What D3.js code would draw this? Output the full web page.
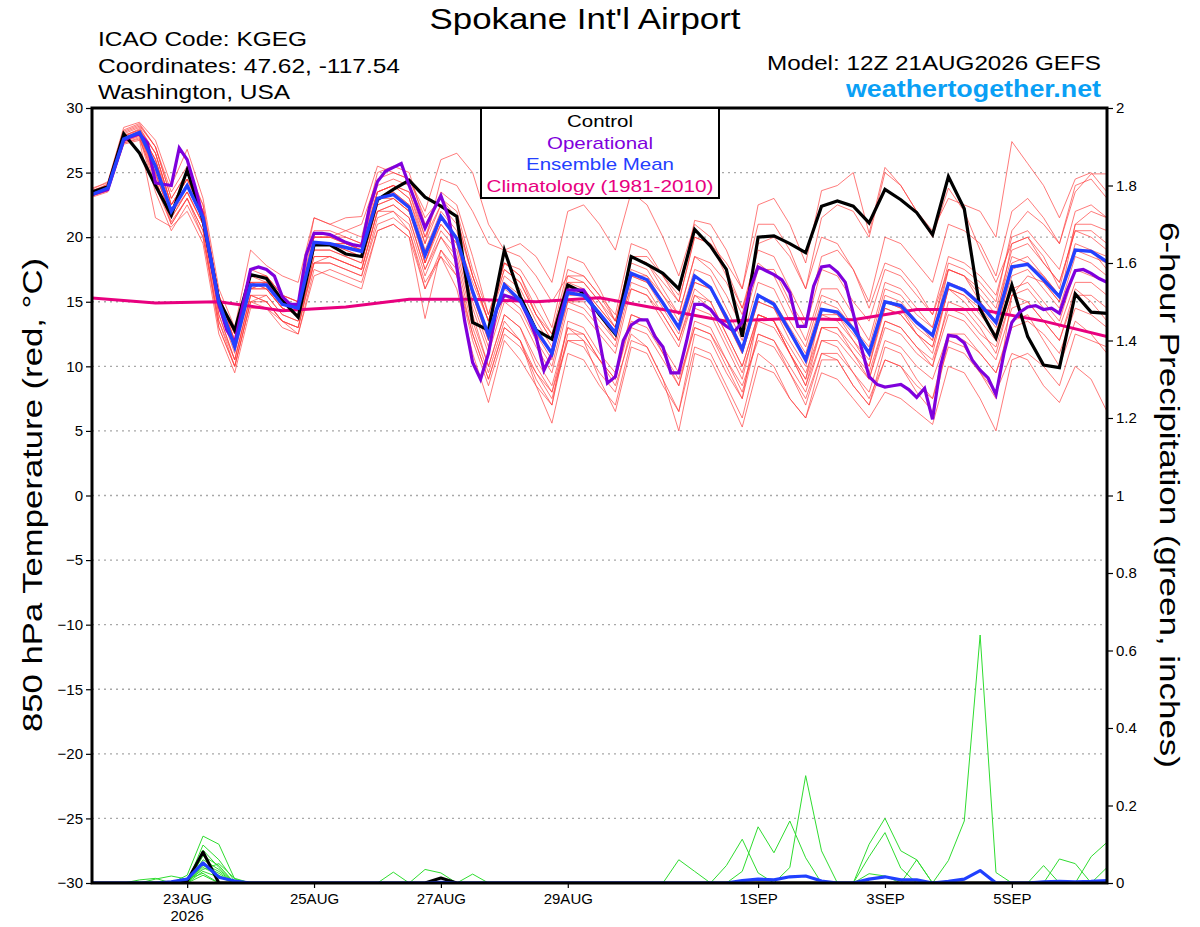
<!DOCTYPE html>
<html lang="en">
<head>
<meta charset="utf-8">
<title>Spokane Int'l Airport - GEFS 850 hPa</title>
<script src="https://d3js.org/d3.v7.min.js"></script>
<style>
  body { margin: 0; background: #fff; }
  text { font-family: "Liberation Sans", Arial, Helvetica, sans-serif; }
</style>
</head>
<body>
<script>

// ---- data ----
var runStart = Date.UTC(2026, 7, 21, 12);   // 12Z 21AUG2026
var runEnd   = Date.UTC(2026, 8, 6, 12);

var tickDates  = [Date.UTC(2026,7,23), Date.UTC(2026,7,25), Date.UTC(2026,7,27), Date.UTC(2026,7,29),
                  Date.UTC(2026,8,1), Date.UTC(2026,8,3), Date.UTC(2026,8,5)];
var tickLabels = ["23AUG", "25AUG", "27AUG", "29AUG", "1SEP", "3SEP", "5SEP"];
var tempTicks  = [-30, -25, -20, -15, -10, -5, 0, 5, 10, 15, 20, 25, 30];
var gridTemps  = [-25, -20, -15, -10, -5, 0, 5, 10, 15, 20, 25];
var precipTicks  = [0, 0.2, 0.4, 0.6, 0.8, 1, 1.2, 1.4, 1.6, 1.8, 2];
var precipLabels = ["0", "0.2", "0.4", "0.6", "0.8", "1", "1.2", "1.4", "1.6", "1.8", "2"];

// 6-hourly, 65 values
var controlT = [23.5,23.9,28.0,26.5,24.0,21.7,25.2,21.3,15.1,12.8,
                17.1,16.8,15.1,13.8,19.4,19.4,18.7,18.5,22.9,23.7,
                24.4,23.1,22.4,21.6,13.4,12.8,19.0,15.4,12.8,12.1,
                16.3,15.7,14.0,12.5,18.5,17.9,17.2,16.0,20.6,19.3,
                17.5,12.3,20.0,20.1,19.5,18.8,22.4,22.8,22.4,21.1,
                23.7,22.9,21.9,20.2,24.7,22.2,14.4,12.2,16.3,12.3,
                10.1,9.9,15.6,14.2,14.1];
var meanT = [23.3,23.8,27.6,28.1,25.5,22.0,24.0,21.5,15.0,11.5,
             16.3,16.3,14.8,14.5,19.6,19.5,19.2,18.9,23.0,23.3,
             22.3,18.6,21.6,19.9,15.8,12.4,16.3,15.1,12.8,11.0,
             15.7,15.5,14.1,12.6,17.2,16.7,14.9,13.0,17.0,16.1,
             13.8,11.3,15.5,14.8,12.7,10.5,14.4,14.2,12.9,11.0,
             15.0,14.7,13.4,12.4,16.4,15.9,14.8,13.4,17.7,17.9,
             16.7,15.4,19.0,18.9,18.1];
// operational run is 3-hourly, 129 values
var operT = [23.3,23.5,23.7,25.6,27.5,27.8,28.0,27.3,24.2,24.1,
             24.0,26.9,26.0,23.9,21.5,18.2,14.8,12.8,11.8,14.7,
             17.5,17.7,17.5,17.0,15.4,14.8,14.8,18.6,20.3,20.3,
             20.2,19.9,19.6,19.4,19.3,22.3,24.3,25.1,25.4,25.7,
             24.0,22.4,20.7,22.0,23.2,21.5,17.7,13.5,10.3,9.0,
             11.0,14.4,15.5,15.3,15.1,13.8,12.3,9.7,11.0,13.8,
             15.9,15.9,15.9,14.9,12.0,8.7,9.2,12.0,13.2,13.6,
             13.6,12.3,11.5,9.5,9.5,12.0,14.8,14.8,14.4,13.6,
             13.1,12.7,13.4,16.0,17.7,17.4,17.1,16.7,15.7,13.1,
             13.1,16.2,17.7,17.8,17.3,16.5,14.1,11.5,9.2,8.6,
             8.4,8.5,8.6,8.2,7.6,8.3,5.9,10.0,12.4,12.3,
             11.8,10.5,9.7,9.1,7.8,11.0,13.4,14.2,14.6,14.7,
             14.4,14.5,14.1,15.9,17.4,17.5,17.2,16.8,16.5];
// climatology, daily at 12Z
var climT = [15.3,14.9,15.0,14.3,14.6,15.2,15.2,15.0,15.3,14.4,13.5,13.7,13.6,14.4,14.4,13.5,12.3];

// ensemble members, 6-hourly
var mem01 = [23.6,24.0,28.0,28.5,26.5,22.5,24.5,22.0,15.5,12.0,17.5,17.0,15.5,15.0,20.5,20.5,20.0,19.5,24.0,24.5,24.0,20.0,23.5,22.5,18.5,14.0,18.0,17.0,14.5,12.5,17.5,17.0,15.5,14.0,19.5,19.0,17.0,15.0,20.0,19.5,17.0,14.5,19.0,18.5,16.0,13.5,18.5,19.0,17.5,15.0,20.0,19.5,18.0,16.5,21.0,20.5,19.5,17.0,22.0,23.0,21.5,19.5,24.0,24.5,23.0];
var mem02 = [23.2,23.6,27.3,27.6,24.5,21.0,23.0,20.0,13.5,10.0,15.0,15.0,13.5,13.0,18.0,18.0,17.5,17.0,21.5,22.0,20.5,16.0,19.0,17.0,12.0,8.5,12.5,11.5,9.5,8.0,12.0,12.0,10.5,9.0,13.5,13.0,11.0,9.0,13.0,12.5,10.5,8.5,12.0,11.5,9.5,7.5,11.0,11.0,9.5,8.0,12.0,11.5,10.0,9.0,12.5,12.0,11.0,9.5,13.0,13.5,12.5,11.0,14.5,14.0,13.0];
var mem03 = [23.8,24.2,28.3,28.8,27.0,23.5,25.5,22.5,15.0,12.5,16.5,16.5,15.0,14.5,20.0,20.0,20.5,21.0,24.5,25.0,24.5,22.0,26.0,26.5,25.0,21.0,19.0,18.5,17.0,15.0,17.0,16.5,15.0,13.0,16.0,15.5,14.0,12.0,15.5,15.0,12.5,10.0,14.0,13.5,11.5,9.5,13.0,13.0,11.5,10.0,14.5,14.0,12.5,11.5,16.0,15.5,14.5,13.0,17.0,17.5,16.0,14.5,18.5,18.0,17.0];
var mem04 = [23.5,23.9,27.8,28.3,26.0,22.0,24.0,21.5,14.5,11.5,16.0,16.5,15.0,14.5,19.5,19.5,19.5,19.0,23.5,24.0,23.0,19.5,24.5,24.0,22.0,19.5,19.0,19.5,18.5,16.5,22.0,22.5,21.0,19.0,23.5,22.5,20.0,17.0,21.0,20.0,17.5,14.5,18.0,17.0,14.5,12.0,16.0,16.0,14.0,12.0,16.5,16.0,14.5,13.0,17.5,17.0,16.0,14.5,19.0,19.5,18.0,16.5,20.5,20.5,19.5];
var mem05 = [23.4,23.8,27.5,28.0,25.5,22.0,24.0,21.5,15.0,11.5,16.5,16.0,14.5,14.0,19.0,19.0,18.5,18.0,22.5,23.0,22.0,18.0,21.0,19.5,15.0,11.5,15.5,14.5,12.0,10.0,15.0,15.0,13.5,12.0,17.0,17.0,15.5,14.0,18.5,18.0,16.5,14.0,19.5,20.0,18.5,16.0,21.5,22.5,22.0,20.0,25.0,24.0,22.0,20.5,23.0,22.5,22.0,20.0,27.4,25.7,24.0,21.5,24.5,25.0,23.5];
var mem06 = [23.1,23.5,27.2,27.5,21.5,20.8,22.0,19.5,12.5,9.5,14.5,14.5,13.0,12.5,17.0,17.5,17.0,16.5,20.5,21.0,20.0,16.0,18.5,17.0,12.5,9.0,13.0,12.0,9.0,7.0,13.5,13.0,11.0,9.5,14.0,13.5,11.0,8.5,13.5,13.0,10.5,8.0,12.5,12.0,9.5,7.0,11.0,10.5,8.5,7.0,10.5,10.0,8.5,7.5,11.5,11.0,9.5,8.0,11.0,10.5,8.5,7.2,10.0,9.0,6.5];
var mem07 = [23.6,24.1,28.1,28.6,27.0,23.0,25.0,22.0,15.5,12.5,17.0,17.0,15.5,15.0,21.5,21.0,20.5,20.0,25.0,25.5,25.0,21.0,23.0,22.0,17.5,14.0,18.0,17.0,14.0,12.5,16.5,16.0,14.5,13.0,18.0,17.5,15.5,13.5,17.5,17.0,14.5,12.0,16.5,16.0,13.5,11.5,15.5,15.0,13.0,11.0,15.5,15.0,13.5,12.0,17.5,17.0,15.0,13.5,19.5,20.0,18.0,16.5,20.5,20.0,19.0];
var mem08 = [23.3,23.7,27.6,28.0,25.0,21.5,23.5,21.0,14.0,10.5,15.5,15.0,13.5,13.0,18.5,18.5,18.0,17.5,22.0,22.0,21.0,17.0,20.0,18.0,13.0,9.5,13.5,12.0,8.5,5.6,11.0,10.5,8.5,7.0,12.0,11.5,9.0,6.5,12.5,12.0,9.5,7.5,14.0,13.5,11.0,9.0,14.5,14.0,12.0,10.0,15.0,14.5,12.5,11.0,16.0,15.0,13.5,12.0,16.0,16.5,15.0,13.5,17.5,17.0,16.5];
var mem09 = [23.5,23.9,27.7,28.2,26.0,22.5,24.5,21.5,15.0,12.0,16.0,16.0,14.5,14.0,19.5,19.5,19.0,18.5,23.0,23.5,22.5,18.0,21.5,20.0,15.5,12.0,16.5,15.0,12.5,10.5,16.0,16.0,14.5,13.0,18.5,18.0,16.5,15.0,20.0,19.5,18.0,16.0,22.5,23.0,21.0,18.0,23.6,24.0,25.0,20.3,25.4,24.0,22.0,20.0,23.8,22.0,19.0,16.5,19.5,20.0,18.5,16.0,21.0,21.0,20.5];
var mem10 = [23.2,23.6,27.4,27.8,24.0,21.0,23.0,20.5,13.0,10.0,15.0,15.5,14.0,13.5,18.5,18.5,18.0,17.5,22.0,22.5,21.5,17.5,20.5,19.0,14.0,10.0,14.0,13.0,10.5,8.5,13.0,12.5,10.5,8.5,12.5,11.5,9.0,5.0,11.0,10.5,8.0,5.3,10.0,9.5,7.5,6.0,9.5,9.0,7.5,6.0,8.0,7.5,6.5,5.5,10.0,9.5,7.5,5.0,10.5,11.0,10.0,8.5,12.5,12.0,11.5];
var mem11 = [23.7,24.3,28.5,28.9,27.5,24.0,26.8,23.0,16.0,13.0,19.0,17.8,17.0,16.5,21.5,21.0,21.5,21.6,25.5,25.0,24.5,21.5,23.0,21.5,17.0,13.5,17.0,16.0,13.5,11.5,16.0,15.5,14.0,12.0,17.0,16.5,14.5,12.5,16.5,16.0,13.5,11.0,15.0,14.5,12.0,10.0,14.0,13.5,12.0,10.5,14.5,14.0,12.5,11.5,16.0,15.5,14.0,12.5,17.5,18.0,16.5,15.0,19.5,19.0,18.5];
var mem12 = [23.3,23.8,27.5,27.9,24.8,21.8,23.5,21.0,14.5,11.0,16.0,16.0,14.5,14.0,19.0,19.0,18.5,18.0,22.5,23.0,22.0,18.5,21.0,19.5,14.5,11.0,15.0,14.0,11.5,9.5,14.5,14.0,12.5,11.0,16.0,15.5,13.5,11.5,15.5,14.5,12.0,9.5,13.5,13.0,11.0,9.0,13.0,12.5,11.0,9.5,13.5,13.0,11.5,10.5,14.5,14.0,12.5,11.5,15.5,16.0,14.5,13.0,16.5,16.5,15.5];
var mem13 = [23.4,23.9,27.9,28.3,26.5,22.5,24.5,22.0,15.5,12.0,17.0,16.5,15.0,14.5,20.0,20.0,19.5,19.0,23.5,24.0,23.0,19.0,22.0,20.5,16.0,12.5,16.5,15.5,13.0,11.0,15.5,15.5,14.0,12.5,17.0,16.5,15.0,13.0,16.5,16.0,14.0,11.5,15.5,15.0,13.0,11.0,15.0,14.5,13.0,11.5,16.0,15.5,14.0,13.0,18.0,17.5,16.5,15.0,20.5,22.0,21.0,19.5,23.5,24.9,24.9];
var mem14 = [23.2,23.7,27.6,28.0,25.0,21.5,23.5,21.0,14.0,10.5,15.5,15.5,14.0,13.5,18.0,18.0,17.5,17.0,21.0,21.5,20.5,16.5,18.5,16.0,11.0,7.2,12.0,10.5,8.5,7.0,12.5,12.5,10.5,9.0,14.0,13.5,11.5,9.5,14.5,14.0,11.5,9.0,14.0,13.5,11.0,8.5,13.0,13.0,11.0,9.0,13.5,13.0,11.5,10.0,15.0,14.5,13.0,11.0,15.5,15.0,13.5,12.0,16.0,15.0,13.5];
var mem15 = [23.5,24.0,27.8,28.4,26.5,22.5,24.5,22.0,15.0,12.0,16.5,16.5,15.0,14.5,20.0,20.0,19.5,19.0,23.5,24.0,23.5,19.5,22.5,21.5,17.0,13.5,17.5,16.5,14.0,12.0,17.0,17.0,15.5,13.5,18.5,18.5,17.0,15.5,21.3,21.0,19.0,16.0,21.0,21.0,19.0,16.0,20.0,19.5,17.5,14.5,18.0,17.5,16.0,14.0,17.5,17.0,15.5,14.0,18.5,18.0,17.0,15.5,19.0,19.0,17.5];
var mem16 = [23.3,23.8,27.6,28.1,25.5,22.0,24.0,21.5,14.5,11.5,16.5,16.0,14.5,14.0,19.5,19.5,19.0,18.5,23.0,23.5,22.5,18.0,21.5,20.0,15.5,12.0,16.0,15.0,12.5,11.0,15.0,14.5,13.0,11.5,16.5,16.0,14.0,12.0,16.0,15.0,12.5,10.0,14.0,13.5,11.0,8.5,12.0,11.5,9.5,7.5,10.5,10.0,8.0,6.5,12.0,11.5,9.5,7.5,15.5,17.0,16.5,15.0,21.0,22.0,21.5];
var mem17 = [23.4,23.8,27.7,28.2,26.0,22.0,24.0,21.5,15.0,11.5,16.0,16.5,15.0,14.5,19.5,19.5,19.5,19.0,23.0,23.0,22.0,18.5,21.5,20.0,16.5,13.5,18.0,17.5,15.5,13.0,18.5,18.0,16.0,13.5,17.5,17.0,15.0,13.0,17.0,16.0,13.5,11.0,15.0,14.5,12.5,10.5,14.0,14.0,12.5,11.0,15.0,14.5,13.0,12.0,16.5,16.0,15.0,13.5,18.0,18.5,17.0,15.5,19.0,18.5,18.0];
var mem18 = [23.3,23.7,27.4,27.9,24.5,21.2,23.0,20.5,13.5,10.5,15.5,15.0,13.5,13.0,18.0,18.5,18.0,17.5,22.0,22.5,21.5,17.5,20.0,18.5,13.5,10.0,14.0,13.0,10.0,8.0,13.0,12.0,9.0,6.5,11.5,11.0,8.5,6.5,11.5,11.0,8.5,6.0,11.0,10.0,7.5,6.0,10.5,10.5,8.5,7.0,11.5,11.0,9.0,7.5,12.5,12.5,11.0,9.5,13.5,14.0,12.0,10.0,13.5,12.5,11.0];
var mem19 = [23.5,24.1,28.2,28.7,27.0,23.0,25.0,22.5,15.5,12.5,17.0,17.0,15.5,15.0,20.0,20.0,20.0,19.5,23.5,24.0,23.5,20.0,22.5,21.0,17.0,13.5,17.5,16.5,14.0,12.0,16.5,16.5,15.0,13.5,18.5,18.0,16.0,14.0,18.5,17.5,15.5,13.0,17.5,17.5,15.0,13.0,17.5,17.0,15.0,13.5,17.5,17.0,15.5,14.0,18.5,18.0,17.0,15.5,20.0,20.5,19.0,17.5,22.0,22.5,21.5];
var mem20 = [23.2,23.6,27.3,27.7,23.5,20.5,22.5,20.0,13.0,10.0,15.0,14.5,13.5,12.5,17.5,17.0,16.5,16.0,20.5,21.0,20.0,13.7,19.0,17.5,12.5,9.0,13.0,12.0,9.5,7.5,12.0,11.5,9.5,8.0,13.0,12.5,10.5,8.5,13.0,12.5,10.0,7.5,12.5,12.0,10.0,8.0,12.0,12.0,10.5,9.0,13.0,12.5,11.0,10.0,14.0,13.5,12.0,10.5,14.5,15.0,13.5,12.0,15.5,15.5,14.5];
var members = [mem01, mem02, mem03, mem04, mem05, mem06, mem07, mem08, mem09, mem10,
               mem11, mem12, mem13, mem14, mem15, mem16, mem17, mem18, mem19, mem20];

// 6-hour precipitation (inches): [step index, amount], every other step is 0
var pcp01 = [[6,0.02],[7,0.121],[8,0.10],[9,0.01]];
var pcp02 = [[7,0.098],[8,0.06],[9,0.005],[37,0.06],[38,0.03]];
var pcp03 = [[7,0.085],[8,0.04],[40,0.045],[41,0.113],[42,0.026]];
var pcp04 = [[7,0.07],[8,0.045],[41,0.03],[42,0.145],[43,0.078],[44,0.16],[45,0.065]];
var pcp05 = [[7,0.06],[8,0.035],[44,0.04],[45,0.277],[46,0.083]];
var pcp06 = [[7,0.05],[8,0.03],[49,0.1],[50,0.167],[51,0.083],[52,0.06]];
var pcp07 = [[7,0.04],[8,0.02],[49,0.068],[50,0.13],[51,0.038]];
var pcp08 = [[7,0.03],[8,0.015],[49,0.024],[50,0.018],[52,0.06]];
var pcp09 = [[4,0.01],[5,0.018],[6,0.01],[7,0.025],[54,0.058],[55,0.16],[56,0.64],[57,0.027]];
var pcp10 = [[3,0.008],[4,0.012],[7,0.02],[19,0.028],[60,0.045]];
var pcp11 = [[21,0.035],[22,0.026],[61,0.062],[62,0.05]];
var pcp12 = [[24,0.023],[63,0.068],[64,0.105]];
var pcp13 = [[7,0.045],[8,0.025],[64,0.04]];
var pcp14 = [[6,0.005],[7,0.035],[8,0.05],[9,0.012]];
var pcpMembers = [pcp01, pcp02, pcp03, pcp04, pcp05, pcp06, pcp07, pcp08, pcp09, pcp10, pcp11, pcp12, pcp13, pcp14];
var pcpControl = [[6,0.005],[7,0.08],[22,0.013]];
var pcpMean = [[5,0.003],[6,0.01],[7,0.052],[8,0.015],[9,0.005],[22,0.002],[41,0.006],[42,0.01],[43,0.008],
               [44,0.016],[45,0.018],[46,0.005],[49,0.01],[50,0.016],[51,0.008],[52,0.008],[54,0.004],[55,0.01],
               [56,0.032],[60,0.003],[61,0.004],[62,0.003],[63,0.004],[64,0.006]];

// ---- drawing ----
var width = 1200;
var height = 927;
var plotLeft = 92, plotRight = 1107, plotTop = 108, plotBottom = 883;

var svg = d3.select("body").append("svg")
    .attr("width", width)
    .attr("height", height);

var x = d3.scaleUtc().domain([new Date(runStart), new Date(runEnd)]).range([plotLeft, plotRight]);
var yT = d3.scaleLinear().domain([-30, 30]).range([plotBottom, plotTop]);
var yP = d3.scaleLinear().domain([0, 2]).range([plotBottom, plotTop]);

function xAt(stepHours) {
  return function(d, i) { return x(new Date(runStart + i * stepHours * 3600000)); };
}

// spread sparse precip list onto the 65 six-hour steps
function fullSteps(pairs) {
  var out = [];
  for (var i = 0; i < 65; i++) out.push(0);
  pairs.forEach(function(p) { out[p[0]] = p[1]; });
  return out;
}

// the source plot uses a wide lettering, so stretch labels to its measured widths
function wideText(sel, len) {
  return sel.attr("textLength", len).attr("lengthAdjust", "spacingAndGlyphs");
}

svg.append("clipPath").attr("id", "plotclip")
  .append("rect")
    .attr("x", plotLeft).attr("y", plotTop)
    .attr("width", plotRight - plotLeft).attr("height", plotBottom - plotTop);

// dotted grid
svg.append("g").selectAll("line")
  .data(gridTemps)
  .enter().append("line")
    .attr("x1", plotLeft).attr("x2", plotRight)
    .attr("y1", function(d) { return yT(d); })
    .attr("y2", function(d) { return yT(d); })
    .attr("stroke", "#a8a8a8")
    .attr("stroke-width", 1.3)
    .attr("stroke-dasharray", "2,4");

var plot = svg.append("g").attr("clip-path", "url(#plotclip)");

var line6 = d3.line().x(xAt(6)).y(function(d) { return yT(d); });
var line3 = d3.line().x(xAt(3)).y(function(d) { return yT(d); });
var line24 = d3.line().x(xAt(24)).y(function(d) { return yT(d); });
var pline = d3.line().x(xAt(6)).y(function(d) { return yP(d); });

// ensemble members
plot.selectAll("path.member")
  .data(members)
  .enter().append("path")
    .attr("class", "member")
    .attr("d", line6)
    .attr("fill", "none")
    .attr("stroke", "#ff3a3a")
    .attr("stroke-opacity", 0.75)
    .attr("stroke-width", 0.9);

// precipitation members
plot.selectAll("path.pcp")
  .data(pcpMembers.map(fullSteps))
  .enter().append("path")
    .attr("class", "pcp")
    .attr("d", pline)
    .attr("fill", "none")
    .attr("stroke", "#2fdc2f")
    .attr("stroke-width", 1);

plot.append("path").datum(fullSteps(pcpControl))
  .attr("d", pline).attr("fill", "none")
  .attr("stroke", "#000").attr("stroke-width", 3).attr("stroke-linejoin", "round");
plot.append("path").datum(fullSteps(pcpMean))
  .attr("d", pline).attr("fill", "none")
  .attr("stroke", "#2040ff").attr("stroke-width", 3.2).attr("stroke-linejoin", "round");

// climatology, control, operational, mean
plot.append("path").datum(climT)
  .attr("d", line24).attr("fill", "none")
  .attr("stroke", "#e8007f").attr("stroke-width", 3);
plot.append("path").datum(controlT)
  .attr("d", line6).attr("fill", "none")
  .attr("stroke", "#000").attr("stroke-width", 3.2);
plot.append("path").datum(operT)
  .attr("d", line3).attr("fill", "none")
  .attr("stroke", "#7f00dc").attr("stroke-width", 3.2);
plot.append("path").datum(meanT)
  .attr("d", line6).attr("fill", "none")
  .attr("stroke", "#2440ff").attr("stroke-width", 3.4);

// frame
svg.append("rect")
  .attr("x", plotLeft).attr("y", plotTop)
  .attr("width", plotRight - plotLeft).attr("height", plotBottom - plotTop)
  .attr("fill", "none").attr("stroke", "#000").attr("stroke-width", 3);

// axes
var leftAxis = svg.append("g")
  .attr("transform", "translate(" + plotLeft + ",0)")
  .call(d3.axisLeft(yT).tickValues(tempTicks).tickSize(6).tickPadding(3));
var rightAxis = svg.append("g")
  .attr("transform", "translate(" + plotRight + ",0)")
  .call(d3.axisRight(yP).tickValues(precipTicks).tickSize(6).tickPadding(3)
        .tickFormat(function(d, i) { return precipLabels[i]; }));
var bottomAxis = svg.append("g")
  .attr("transform", "translate(0," + plotBottom + ")")
  .call(d3.axisBottom(x).tickValues(tickDates.map(function(t) { return new Date(t); }))
        .tickSize(5).tickPadding(5)
        .tickFormat(function(d, i) { return tickLabels[i]; }));

[leftAxis, rightAxis, bottomAxis].forEach(function(a) {
  a.select(".domain").remove();
  a.selectAll("text").attr("font-size", 15).attr("fill", "#000")
    .attr("font-family", "'Liberation Sans', Arial, sans-serif");
  a.selectAll("line").attr("stroke", "#000").attr("stroke-width", 1.2);
});

svg.append("text")
  .attr("x", x(new Date(tickDates[0]))).attr("y", 921)
  .attr("text-anchor", "middle").attr("font-size", 15)
  .text("2026");

// axis titles
wideText(svg.append("text")
  .attr("transform", "translate(42,495) rotate(-90)")
  .attr("text-anchor", "middle").attr("font-size", 28)
  .text("850 hPa Temperature (red, \u00B0C)"), 474);
wideText(svg.append("text")
  .attr("transform", "translate(1160,495) rotate(90)")
  .attr("text-anchor", "middle").attr("font-size", 28)
  .text("6-hour Precipitation (green, inches)"), 546);

// header
wideText(svg.append("text").attr("x", 585).attr("y", 29)
  .attr("text-anchor", "middle").attr("font-size", 29)
  .text("Spokane Int'l Airport"), 311);
var infoLines = ["ICAO Code: KGEG", "Coordinates: 47.62, -117.54", "Washington, USA"];
var infoWidths = [209, 302, 192];
svg.selectAll("text.info")
  .data(infoLines)
  .enter().append("text")
    .attr("class", "info")
    .attr("x", 98)
    .attr("y", function(d, i) { return 46 + i * 26.5; })
    .attr("font-size", 20)
    .attr("textLength", function(d, i) { return infoWidths[i]; })
    .attr("lengthAdjust", "spacingAndGlyphs")
    .text(function(d) { return d; });
wideText(svg.append("text").attr("x", 1101).attr("y", 70)
  .attr("text-anchor", "end").attr("font-size", 20)
  .text("Model: 12Z 21AUG2026 GEFS"), 334);
wideText(svg.append("text").attr("x", 1101).attr("y", 97)
  .attr("text-anchor", "end").attr("font-size", 23).attr("font-weight", "bold")
  .attr("fill", "#0aa0f5")
  .text("weathertogether.net"), 255);

// legend
var legendItems = ["Control", "Operational", "Ensemble Mean", "Climatology (1981-2010)"];
var legendColors = ["#000000", "#7f00dc", "#2440ff", "#e8007f"];
var legendWidths = [66, 106, 148, 227];
svg.append("rect")
  .attr("x", 481).attr("y", plotTop)
  .attr("width", 238).attr("height", 90)
  .attr("fill", "#fff").attr("stroke", "#000").attr("stroke-width", 2);
svg.selectAll("text.legend")
  .data(legendItems)
  .enter().append("text")
    .attr("class", "legend")
    .attr("x", 600)
    .attr("y", function(d, i) { return 127 + i * 21.7; })
    .attr("text-anchor", "middle")
    .attr("font-size", 17)
    .attr("textLength", function(d, i) { return legendWidths[i]; })
    .attr("lengthAdjust", "spacingAndGlyphs")
    .attr("fill", function(d, i) { return legendColors[i]; })
    .text(function(d) { return d; });

</script>
</body>
</html>
